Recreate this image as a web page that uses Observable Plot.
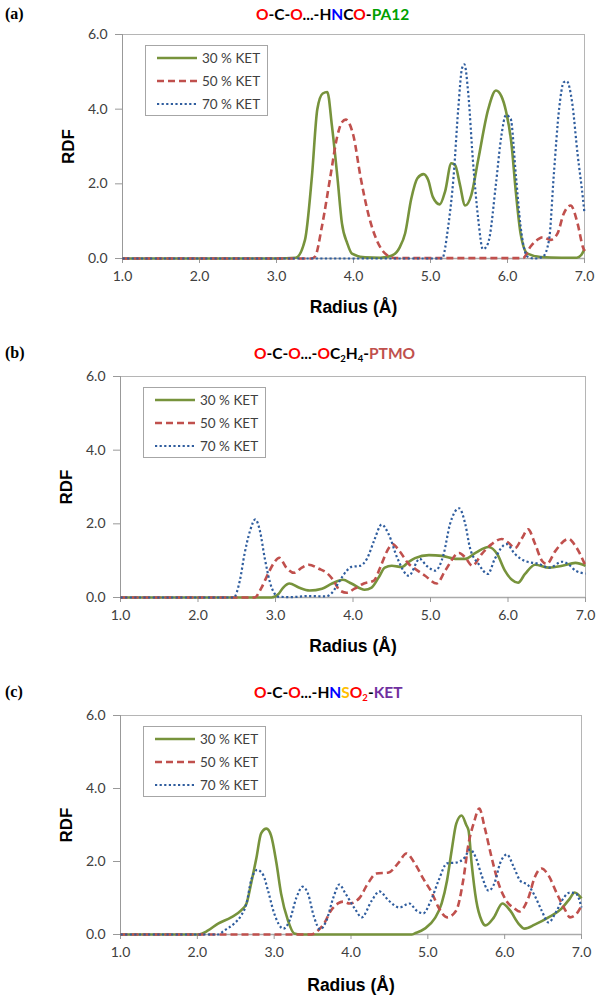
<!DOCTYPE html>
<html><head><meta charset="utf-8">
<script src="https://cdn.jsdelivr.net/npm/d3@7"></script>
<script src="https://cdn.jsdelivr.net/npm/@observablehq/plot@0.6"></script>
<style>
body{margin:0;background:#fff;}
#root{position:relative;width:601px;height:1000px;overflow:hidden;background:#fff;}
.plabel{position:absolute;left:5px;font:bold 16px "Liberation Serif","DejaVu Serif",serif;transform:translateY(-50%);color:#000;}
.title{position:absolute;font:bold 15.5px Lato,"Liberation Sans",sans-serif;transform:translateY(-50%);white-space:nowrap;color:#000;}
.title sub{font-size:9.5px;vertical-align:-3px;line-height:0;}
.legend{position:absolute;background:#fff;border:1px solid #a6a6a6;box-sizing:border-box;}
.legend .row{position:absolute;left:0;right:0;height:16px;transform:translateY(-50%);font:13.5px Lato,"Liberation Sans",sans-serif;color:#404040;line-height:16px;}
.legend .row svg{position:absolute;left:10px;top:0;}
.legend .row span{position:absolute;left:56px;top:0;}
svg.plot{position:absolute;left:0;}
svg.plot [aria-label="x-axis tick"], svg.plot [aria-label="y-axis tick"]{stroke:#999;}
</style></head>
<body><div id="root"></div>
<script>
// ---- tick labels / categories
const xTicks = [1, 2, 3, 4, 5, 6, 7];
const yTicks = [0, 2, 4, 6];
const seriesNames = ["30 % KET", "50 % KET", "70 % KET"];

// ---- panel (a) O-C-O...-HNCO-PA12   [radius, RDF]
const a30 = [[1,0],[3.0,0],[3.25,0.02],[3.37,0.5],[3.46,2.2],[3.53,4.0],[3.6,4.42],[3.66,4.46],[3.72,3.55],[3.79,2.2],[3.85,0.94],[3.92,0.4],[3.98,0.13],[4.15,0.03],[4.35,0.02],[4.5,0.08],[4.6,0.3],[4.67,0.67],[4.75,1.6],[4.83,2.15],[4.91,2.26],[4.97,2.1],[5.03,1.65],[5.12,1.45],[5.19,1.8],[5.27,2.55],[5.32,2.5],[5.38,2.0],[5.45,1.42],[5.53,1.7],[5.62,2.65],[5.75,4.0],[5.85,4.5],[5.92,4.35],[5.98,3.95],[6.05,3.1],[6.11,1.75],[6.17,0.67],[6.26,0.13],[6.43,0.04],[6.7,0.02],[6.9,0.02],[6.96,0.1],[7.0,0.25]];
const a50 = [[1,0],[3.45,0],[3.5,0.05],[3.59,0.86],[3.7,2.2],[3.79,3.28],[3.85,3.65],[3.9,3.72],[3.95,3.6],[4.0,3.28],[4.09,2.2],[4.2,1.13],[4.3,0.5],[4.43,0.1],[4.55,0.01],[6.2,0.01],[6.3,0.32],[6.4,0.52],[6.46,0.57],[6.56,0.5],[6.65,0.67],[6.73,1.2],[6.82,1.42],[6.91,0.94],[6.98,0.3],[7.0,0.2]];
const a70 = [[1,0],[5.15,0],[5.23,0.86],[5.3,2.2],[5.36,4.0],[5.41,5.1],[5.44,5.2],[5.49,4.43],[5.55,2.65],[5.62,1.05],[5.68,0.25],[5.72,0.3],[5.76,0.5],[5.85,2.0],[5.92,3.28],[5.98,3.84],[6.04,3.75],[6.11,2.2],[6.17,0.86],[6.26,0.05],[6.35,0],[6.46,0.05],[6.54,0.5],[6.6,2.2],[6.67,4.0],[6.73,4.72],[6.77,4.75],[6.84,4.17],[6.91,2.8],[6.98,1.6],[7.0,1.2]];

// ---- panel (b) O-C-O...-OC2H4-PTMO
const b30 = [[1,0],[2.95,0],[3.04,0.1],[3.1,0.27],[3.18,0.38],[3.3,0.27],[3.44,0.19],[3.6,0.24],[3.73,0.38],[3.87,0.48],[3.98,0.38],[4.15,0.21],[4.24,0.27],[4.33,0.54],[4.41,0.81],[4.5,0.86],[4.63,0.83],[4.72,0.97],[4.8,1.07],[4.98,1.15],[5.15,1.13],[5.32,1.05],[5.45,1.05],[5.58,1.21],[5.75,1.37],[5.86,1.18],[5.96,0.73],[6.05,0.48],[6.13,0.4],[6.22,0.64],[6.35,0.89],[6.53,0.81],[6.7,0.86],[6.87,0.94],[7.0,0.86]];
const b50 = [[1,0],[2.73,0],[2.82,0.27],[2.91,0.67],[2.98,0.94],[3.05,1.08],[3.14,0.81],[3.24,0.67],[3.34,0.81],[3.43,0.89],[3.56,0.78],[3.66,0.67],[3.75,0.46],[3.83,0.19],[3.92,0.13],[4.02,0.24],[4.14,0.38],[4.27,0.46],[4.35,0.81],[4.44,1.26],[4.51,1.45],[4.6,1.26],[4.72,0.91],[4.8,0.78],[4.93,0.59],[5.08,0.38],[5.19,0.73],[5.37,1.21],[5.45,1.08],[5.54,0.86],[5.66,1.18],[5.79,1.45],[5.92,1.59],[6.01,1.48],[6.09,1.34],[6.18,1.61],[6.26,1.85],[6.35,1.45],[6.44,0.99],[6.5,0.91],[6.61,1.26],[6.78,1.59],[6.87,1.4],[7.0,0.86]];
const b70 = [[1,0],[2.46,0],[2.54,0.46],[2.6,1.18],[2.67,1.8],[2.74,2.12],[2.8,1.8],[2.86,1.08],[2.95,0.27],[3.04,0.02],[3.2,0.01],[3.43,0.04],[3.65,0.03],[3.73,0.13],[3.83,0.46],[3.92,0.73],[3.98,0.83],[4.09,0.86],[4.18,1.05],[4.27,1.53],[4.37,1.98],[4.46,1.72],[4.57,1.08],[4.72,0.59],[4.86,1.05],[4.95,0.86],[5.06,0.73],[5.17,1.18],[5.25,1.98],[5.37,2.42],[5.45,1.98],[5.51,1.34],[5.62,0.91],[5.74,0.64],[5.83,1.05],[5.98,1.45],[6.09,1.18],[6.22,0.99],[6.4,0.91],[6.53,0.81],[6.7,0.97],[6.78,0.9],[6.87,0.73],[7.0,0.65]];

// ---- panel (c) O-C-O...-HNSO2-KET
const c30 = [[1,0],[2.01,0],[2.14,0.11],[2.27,0.3],[2.44,0.47],[2.57,0.66],[2.64,0.85],[2.7,1.4],[2.77,2.11],[2.83,2.77],[2.9,2.9],[2.96,2.71],[3.03,1.95],[3.09,1.12],[3.18,0.38],[3.26,0.03],[3.35,0],[4.79,0],[4.83,0.03],[4.96,0.16],[5.09,0.44],[5.18,0.85],[5.25,1.48],[5.31,2.3],[5.37,3.04],[5.44,3.26],[5.5,3.0],[5.53,2.85],[5.57,1.95],[5.63,0.93],[5.7,0.38],[5.75,0.25],[5.86,0.47],[5.97,0.85],[6.07,0.66],[6.18,0.3],[6.26,0.16],[6.39,0.27],[6.57,0.47],[6.74,0.71],[6.85,0.99],[6.91,1.15],[7.0,0.99]];
const c50 = [[1,0],[3.48,0],[3.57,0.11],[3.65,0.3],[3.74,0.66],[3.83,0.85],[3.9,0.9],[3.98,0.85],[4.11,1.0],[4.22,1.4],[4.33,1.67],[4.49,1.7],[4.62,1.97],[4.72,2.22],[4.83,1.95],[4.94,1.53],[5.05,1.15],[5.14,0.74],[5.25,0.47],[5.37,0.66],[5.46,1.48],[5.53,2.49],[5.6,3.07],[5.67,3.45],[5.74,2.93],[5.83,2.11],[5.92,1.4],[6.02,0.93],[6.13,0.71],[6.19,0.63],[6.31,1.01],[6.39,1.56],[6.48,1.81],[6.57,1.62],[6.68,1.12],[6.79,0.66],[6.85,0.47],[6.94,0.58],[7.0,0.79]];
const c70 = [[1,0],[2.27,0],[2.35,0.11],[2.48,0.3],[2.57,0.52],[2.64,0.85],[2.7,1.48],[2.78,1.77],[2.86,1.62],[2.92,1.2],[3.0,0.58],[3.12,0.16],[3.2,0.38],[3.29,1.01],[3.37,1.31],[3.44,1.12],[3.52,0.47],[3.6,0.14],[3.68,0.38],[3.77,1.01],[3.85,1.37],[3.92,1.15],[4.05,0.71],[4.14,0.47],[4.27,0.93],[4.37,1.18],[4.49,0.93],[4.63,0.74],[4.76,0.85],[4.85,0.66],[4.94,0.58],[5.04,0.93],[5.14,1.48],[5.25,1.95],[5.37,1.97],[5.48,2.11],[5.55,2.33],[5.63,2.08],[5.7,1.62],[5.79,1.2],[5.87,1.42],[5.94,1.95],[6.03,2.19],[6.12,1.84],[6.2,1.48],[6.31,1.34],[6.39,1.07],[6.48,0.66],[6.57,0.33],[6.68,0.66],[6.77,1.01],[6.85,1.15],[6.93,1.12],[7.0,0.74]];

const styles = [
  {stroke:"#77933c", strokeWidth:2.6, dash:null},
  {stroke:"#c0504d", strokeWidth:2.6, dash:"7,4"},
  {stroke:"#2f5d9e", strokeWidth:2.2, dash:"2.2,2.4"}
];

const panels = [
  {label:"(a)", labelY:14, titleX:256, titleY:14,
   title:'<span style="color:#f00">O</span>-C-<span style="color:#f00">O</span>...-H<span style="color:#00f">N</span>C<span style="color:#f00">O</span>-<span style="color:#00a000">PA12</span>',
   top:34, bottom:258, left:122, right:584, series:[a30,a50,a70], xlab:49},
  {label:"(b)", labelY:353, titleX:254, titleY:353,
   title:'<span style="color:#f00">O</span>-C-<span style="color:#f00">O</span>...-<span style="color:#f00">O</span>C<sub>2</sub>H<sub>4</sub>-<span style="color:#c0504d">PTMO</span>',
   top:376, bottom:597, left:120, right:585, series:[b30,b50,b70], xlab:49},
  {label:"(c)", labelY:692, titleX:254, titleY:692,
   title:'<span style="color:#f00">O</span>-C-<span style="color:#f00">O</span>...-H<span style="color:#00f">N</span><span style="color:#ffc000">S</span><span style="color:#f00">O<sub>2</sub></span>-<span style="color:#7030a0">KET</span>',
   top:715, bottom:934, left:120, right:581, series:[c30,c50,c70], xlab:51}
];

const root = document.getElementById("root");
const MT = 30, MB = 70;

for (const p of panels) {
  const lab = document.createElement("div");
  lab.className = "plabel"; lab.style.top = p.labelY + "px"; lab.textContent = p.label;
  root.appendChild(lab);
  const t = document.createElement("div");
  t.className = "title"; t.style.top = p.titleY + "px"; t.style.left = p.titleX + "px"; t.innerHTML = p.title;
  root.appendChild(t);

  const lines = p.series.map((s, i) => Plot.line(s, {
    x: d => d[0], y: d => d[1], curve: "monotone-x",
    stroke: styles[i].stroke, strokeWidth: styles[i].strokeWidth,
    strokeDasharray: styles[i].dash || undefined, strokeLinecap: "butt", strokeLinejoin: "round"
  }));

  const chart = Plot.plot({
    width: 601,
    height: (p.bottom - p.top) + MT + MB,
    marginTop: MT, marginBottom: MB,
    marginLeft: p.left, marginRight: 601 - p.right,
    x: {domain: [1, 7]},
    y: {domain: [0, 6]},
    style: {fontFamily: "Lato, 'Liberation Sans', sans-serif", fontSize: "14px", color: "#404040", background: "transparent", overflow: "visible"},
    marks: [
      Plot.frame({stroke: "#b5b5b5"}),
      Plot.ruleX([1], {stroke: "#999"}),
      Plot.ruleY([0], {stroke: "#aaa", strokeWidth: 1.5}),
      Plot.axisX({ticks: xTicks, tickFormat: d => d.toFixed(1), tickSize: 5, tickPadding: 8, label: null}),
      Plot.axisY({ticks: yTicks, tickFormat: d => d.toFixed(1), tickSize: 7, tickPadding: 8, label: null}),
      ...lines,
      Plot.text(["RDF"], {frameAnchor: "left", dx: -54, rotate: -90, textAnchor: "middle", lineAnchor: "middle", fontWeight: "bold", fontSize: 17, fill: "#000", fontFamily: "'Liberation Sans', Arial, sans-serif"}),
      Plot.text(["Radius (Å)"], {frameAnchor: "bottom", dy: p.xlab, textAnchor: "middle", lineAnchor: "middle", fontWeight: "bold", fontSize: 17.5, fill: "#000", fontFamily: "'Liberation Sans', Arial, sans-serif"})
    ]
  });
  chart.classList.add("plot");
  chart.style.top = (p.top - MT) + "px";
  root.appendChild(chart);

  // legend
  const lg = document.createElement("div");
  lg.className = "legend";
  lg.style.left = (p.left + 23) + "px";
  lg.style.top = (p.top + 11) + "px";
  lg.style.width = "123px"; lg.style.height = "71px";
  const rowsY = [12, 35, 58];
  seriesNames.forEach((name, i) => {
    const r = document.createElement("div");
    r.className = "row"; r.style.top = rowsY[i] + "px";
    const st = styles[i];
    r.innerHTML = `<svg width="42" height="16"><line x1="1" x2="41" y1="8" y2="8" stroke="${st.stroke}" stroke-width="${st.strokeWidth}" ${st.dash ? `stroke-dasharray="${st.dash}"` : ""}/></svg><span>${name}</span>`;
    lg.appendChild(r);
  });
  root.appendChild(lg);
}
</script></body></html>
